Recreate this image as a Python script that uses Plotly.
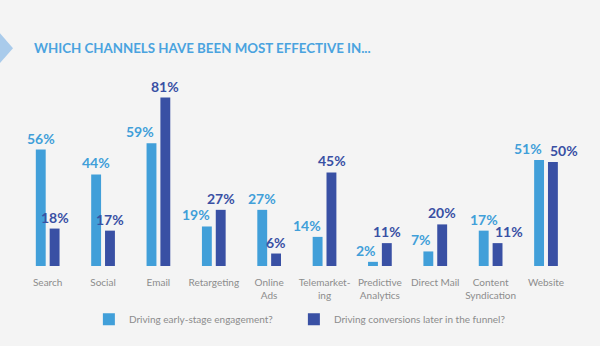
import plotly.graph_objects as go

categories = ["Search", "Social", "Email", "Retargeting", "Online<br>Ads",
              "Telemarket-<br>ing", "Predictive<br>Analytics", "Direct Mail",
              "Content<br>Syndication", "Website"]
early = [56, 44, 59, 19, 27, 14, 2, 7, 17, 51]
later = [18, 17, 81, 27, 6, 45, 11, 20, 11, 50]
series_names = ["Driving early-stage engagement?", "Driving conversions later in the funnel?"]
title_text = "WHICH CHANNELS HAVE BEEN MOST EFFECTIVE IN..."

light = "#419fd9"
dark = "#3950a4"
bg = "#f4f4f4"

fig = go.Figure()
for name, vals, col, lg in [(series_names[0], early, light, "legend"),
                            (series_names[1], later, dark, "legend2")]:
    fig.add_trace(go.Bar(
        x=categories, y=vals, name=name, marker=dict(color=col, line=dict(width=0)),
        cliponaxis=False, legend=lg,
    ))

# value labels: shift apart where the two labels of a pair would collide
lab_font = dict(family="Lato", size=14, weight="bold")
for c, e, l in zip(categories, early, later):
    if l > e - 5:
        ea, es = "right", -2
    else:
        ea, es = "center", -7
    if abs(e - l) < 8:
        la, ls = "left", 2
    else:
        la, ls = "center", 7
    fig.add_annotation(x=c, y=e, text=f"{e}%", showarrow=False, xanchor=ea, xshift=es,
                       yanchor="bottom", yshift=1, font=dict(lab_font, color=light))
    fig.add_annotation(x=c, y=l, text=f"{l}%", showarrow=False, xanchor=la, xshift=ls,
                       yanchor="bottom", yshift=1, font=dict(lab_font, color=dark))

leg_common = dict(orientation="h", xanchor="left", y=-0.256, yanchor="middle",
                  font=dict(family="Lato", size=10, color="#8c8c8c"),
                  bgcolor="rgba(0,0,0,0)")
fig.update_layout(
    width=600, height=346, paper_bgcolor=bg, plot_bgcolor=bg,
    margin=dict(l=20, r=20, t=58, b=77),
    barmode="group", bargap=0.5, bargroupgap=0.286,
    showlegend=True,
    legend=dict(leg_common, x=0.123),
    legend2=dict(leg_common, x=0.123 + 205 / 560),
    xaxis=dict(showgrid=False, showline=False, zeroline=False, ticks="",
               ticklabelstandoff=9,
               tickfont=dict(family="Lato", size=10, color="#8c8c8c"), tickangle=0),
    yaxis=dict(range=[0, 100], visible=False, showgrid=False),
    font=dict(family="Lato"),
)

fig.add_annotation(text=title_text, xref="paper", yref="paper",
                   x=(32 - 20) / 560, y=(269 - 48) / 211, xanchor="left", yanchor="middle",
                   showarrow=False,
                   font=dict(family="Lato", size=13.3, color="#4aa3df", weight="bold"))

fig.add_shape(type="path", xref="paper", yref="paper",
              path="M %f %f L %f %f L %f %f Z" % (
                  -20 / 560, (269 - 33) / 211, 13 / 560 - 20 / 560, (269 - 48) / 211,
                  -20 / 560, (269 - 63) / 211),
              fillcolor="#a9cbeb", line=dict(width=0))

fig.write_html("out.html")
